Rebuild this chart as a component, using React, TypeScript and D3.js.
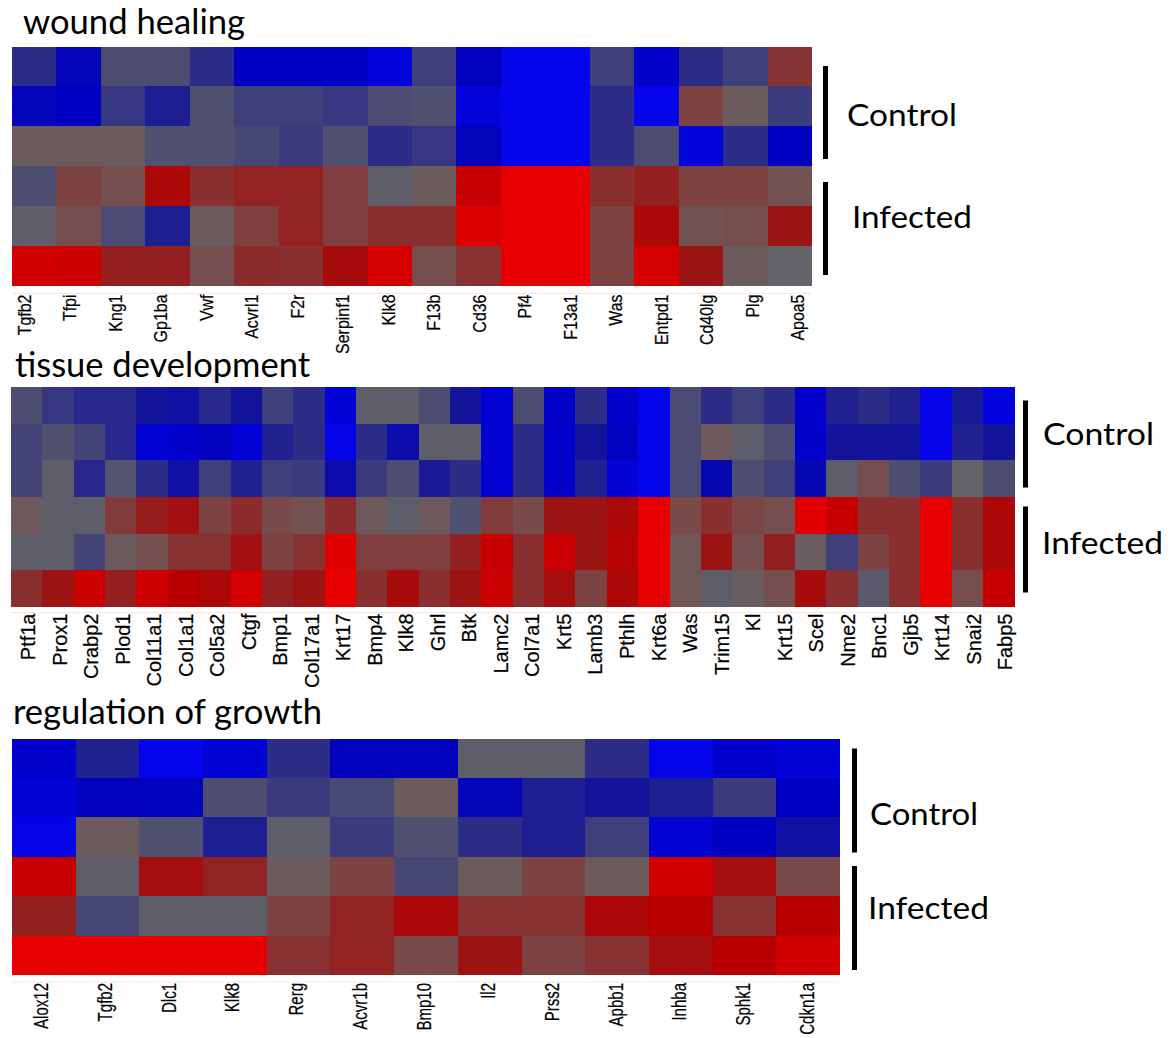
import React from 'react';
import * as d3 from 'd3';

// ---------- data ----------
const rowGroups = ['Control', 'Control', 'Control', 'Infected', 'Infected', 'Infected'];

const woundGenes = ['Tgfb2', 'Tfpi', 'Kng1', 'Gp1ba', 'Vwf', 'Acvrl1', 'F2r', 'Serpinf1', 'Klk8', 'F13b', 'Cd36', 'Pf4', 'F13a1', 'Was', 'Entpd1', 'Cd40lg', 'Plg', 'Apoa5'];
const woundValues = [
  [-0.3, -0.7, 0.05, -0.12, -0.03, 0.88],
  [-0.7, -0.75, 0.05, 0.2, 0.12, 0.85],
  [-0.12, -0.25, 0.05, 0.12, -0.13, 0.43],
  [-0.12, -0.42, -0.1, 0.65, -0.42, 0.43],
  [-0.3, -0.1, -0.1, 0.32, 0.05, 0.12],
  [-0.75, -0.2, -0.15, 0.4, 0.22, 0.35],
  [-0.75, -0.2, -0.22, 0.4, 0.4, 0.32],
  [-0.75, -0.25, -0.1, 0.22, 0.22, 0.6],
  [-0.9, -0.13, -0.3, -0.03, 0.32, 0.9],
  [-0.2, -0.1, -0.25, 0.05, 0.33, 0.13],
  [-0.72, -0.9, -0.7, 0.82, 0.95, 0.3],
  [-1, -1, -1, 1, 1, 1],
  [-1, -1, -1, 1, 1, 1],
  [-0.2, -0.3, -0.3, 0.32, 0.2, 0.2],
  [-0.78, -1, -0.12, 0.42, 0.65, 0.9],
  [-0.3, 0.2, -0.9, 0.2, 0.1, 0.5],
  [-0.2, 0.05, -0.3, 0.2, 0.14, 0.05],
  [0.28, -0.22, -0.75, 0.1, 0.5, 0],
];

const tissueGenes = ['Ptf1a', 'Prox1', 'Crabp2', 'Plod1', 'Col11a1', 'Col1a1', 'Col5a2', 'Ctgf', 'Bmp1', 'Col17a1', 'Krt17', 'Bmp4', 'Klk8', 'Ghrl', 'Btk', 'Lamc2', 'Col7a1', 'Krt5', 'Lamb3', 'Pthlh', 'Krt6a', 'Was', 'Trim15', 'Kl', 'Krt15', 'Scel', 'Nme2', 'Bnc1', 'Gjb5', 'Krt14', 'Snai2', 'Fabp5'];
const tissueValues = [
  [-0.12, -0.17, -0.17, 0.06, -0.03, 0.32],
  [-0.25, -0.1, -0.03, -0.03, -0.03, 0.5],
  [-0.35, -0.17, -0.35, -0.03, -0.17, 0.85],
  [-0.35, -0.35, -0.08, 0.25, 0.05, 0.42],
  [-0.5, -0.85, -0.3, 0.45, 0.12, 0.85],
  [-0.55, -0.8, -0.55, 0.55, 0.3, 0.75],
  [-0.35, -0.72, -0.2, 0.2, 0.3, 0.65],
  [-0.5, -0.88, -0.4, 0.35, 0.55, 0.9],
  [-0.2, -0.4, -0.2, 0.15, 0.2, 0.42],
  [-0.3, -0.3, -0.22, 0.1, 0.3, 0.5],
  [-0.88, -0.98, -0.6, 0.35, 0.97, 1],
  [-0.03, -0.3, -0.22, 0.06, 0.22, 0.32],
  [-0.03, -0.6, -0.12, -0.03, 0.22, 0.6],
  [-0.12, -0.03, -0.45, 0.06, 0.22, 0.32],
  [-0.5, -0.03, -0.3, -0.1, 0.42, 0.5],
  [-0.85, -0.85, -0.85, 0.25, 0.82, 0.85],
  [-0.12, -0.3, -0.3, 0.15, 0.32, 0.32],
  [-0.78, -0.8, -0.78, 0.5, 0.85, 0.58],
  [-0.3, -0.5, -0.4, 0.5, 0.5, 0.2],
  [-0.8, -0.72, -0.88, 0.65, 0.72, 0.65],
  [-1, -1, -1, 1, 1, 1],
  [-0.13, -0.13, -0.13, 0.15, 0.08, 0.08],
  [-0.3, 0.06, -0.65, 0.32, 0.5, -0.03],
  [-0.2, -0.03, -0.12, 0.18, 0.12, 0.04],
  [-0.3, -0.12, -0.2, 0.12, 0.42, 0.12],
  [-0.8, -0.8, -0.65, 0.97, 0.04, 0.6],
  [-0.4, -0.5, -0.03, 0.82, -0.2, 0.32],
  [-0.3, -0.5, 0.12, 0.32, 0.2, -0.05],
  [-0.4, -0.5, -0.12, 0.32, 0.32, 0.32],
  [-0.98, -0.98, -0.22, 1, 1, 1],
  [-0.45, -0.4, 0, 0.32, 0.32, 0.14],
  [-0.95, -0.5, -0.12, 0.65, 0.65, 0.82],
];

const growthGenes = ['Alox12', 'Tgfb2', 'Dlc1', 'Klk8', 'Rerg', 'Acvr1b', 'Bmp10', 'Il2', 'Prss2', 'Apbb1', 'Inhba', 'Sphk1', 'Cdkn1a'];
const growthValues = [
  [-0.8, -0.88, -0.97, 0.82, 0.42, 1],
  [-0.4, -0.72, 0.05, -0.03, -0.15, 1],
  [-1, -0.72, -0.1, 0.58, -0.03, 1],
  [-0.85, -0.12, -0.42, 0.4, -0.03, 1],
  [-0.3, -0.22, -0.03, 0.05, 0.2, 0.3],
  [-0.72, -0.14, -0.22, 0.2, 0.4, 0.4],
  [-0.72, 0.05, -0.1, -0.15, 0.65, 0.15],
  [-0.03, -0.7, -0.3, 0.05, 0.3, 0.5],
  [-0.03, -0.42, -0.42, 0.2, 0.3, 0.2],
  [-0.3, -0.5, -0.2, 0.05, 0.65, 0.3],
  [-1, -0.42, -0.85, 0.88, 0.75, 0.58],
  [-0.8, -0.22, -0.75, 0.58, 0.3, 0.75],
  [-0.88, -0.75, -0.55, 0.15, 0.75, 0.88],
];

const colorStops = [-1, -0.75, -0.5, -0.3, -0.1, 0, 0.1, 0.3, 0.5, 0.75, 1];
const colorRange = ['#0505eb', '#0000c3', '#14149b', '#2d2d87', '#505070', '#646468', '#735252', '#873232', '#9b1414', '#b90000', '#e60000'];

const color = d3
  .scaleLinear<string>()
  .domain(colorStops)
  .range(colorRange)
  .interpolate(d3.interpolateRgb)
  .clamp(true);

const TITLE_FONT = 'Lato, "Open Sans", sans-serif';
const LABEL_FONT = '"Liberation Sans", Arial, sans-serif';

type Panel = {
  title: string;
  genes: string[];
  values: number[][];
  box: [number, number, number, number];
  labelRange: [number, number];
  labelTop: number;
  labelSize: number;
  labelSquash: number;
  titlePos: [number, number, number];
  barX: number;
  bars: [number, number][];
  groupText: [number, number, number][];
};

const panels: Panel[] = [
  {
    title: 'wound healing',
    genes: woundGenes,
    values: woundValues,
    box: [12, 812, 46.5, 286],
    labelRange: [1, 820],
    labelTop: 294.5,
    labelSize: 19,
    labelSquash: 0.84,
    titlePos: [23, 34, 222],
    barX: 823,
    bars: [[66, 159], [182, 275]],
    groupText: [[847, 126, 110], [852, 228, 120]],
  },
  {
    title: 'tissue development',
    genes: tissueGenes,
    values: tissueValues,
    box: [11, 1014.5, 387, 607],
    labelRange: [12.25, 1020.75],
    labelTop: 613.5,
    labelSize: 20,
    labelSquash: 1,
    titlePos: [15, 377, 295],
    barX: 1023,
    bars: [[400.5, 487.5], [506.5, 592.5]],
    groupText: [[1043, 445, 111], [1042, 554, 121]],
  },
  {
    title: 'regulation of growth',
    genes: growthGenes,
    values: growthValues,
    box: [12, 840, 738.5, 975],
    labelRange: [9, 839],
    labelTop: 983,
    labelSize: 19.5,
    labelSquash: 0.77,
    titlePos: [13, 723.5, 309],
    barX: 852,
    bars: [[748.5, 852.5], [866, 970]],
    groupText: [[870, 825, 108], [868, 919, 121]],
  },
];

function HeatPanel({ p }: { p: Panel }) {
  const [x0, x1, y0, y1] = p.box;
  const x = d3.scaleBand<string>().domain(p.genes.map((g, i) => `${i}`)).range([x0, x1]).padding(0);
  const y = d3.scaleBand<string>().domain(rowGroups.map((g, i) => `${i}`)).range([y0, y1]).padding(0);
  const lx = d3.scaleBand<string>().domain(p.genes.map((g, i) => `${i}`)).range(p.labelRange).padding(0);
  const groups = ['Control', 'Infected'];
  return (
    <g>
      <text
        x={p.titlePos[0]}
        y={p.titlePos[1]}
        textLength={p.titlePos[2]}
        lengthAdjust="spacingAndGlyphs"
        fontFamily={TITLE_FONT}
        fontSize={34}
        fill="#000"
      >
        {p.title}
      </text>
      <g shapeRendering="crispEdges">
        {p.values.map((col, i) =>
          col.map((v, j) => (
            <rect
              key={`${i}-${j}`}
              x={x(`${i}`)}
              y={y(`${j}`)}
              width={x.bandwidth() + 0.4}
              height={y.bandwidth() + 0.4}
              fill={color(v)}
            />
          ))
        )}
      </g>
      <line x1={x0} x2={x1} y1={p.labelTop - 1} y2={p.labelTop - 1} stroke="#fbe4e4" strokeWidth={1} />
      {p.genes.map((g, i) => {
        const cx = (lx(`${i}`) as number) + lx.bandwidth() / 2;
        return (
          <text
            key={g + i}
            transform={`translate(${cx},${p.labelTop}) rotate(-90) scale(${p.labelSquash},1)`}
            textAnchor="end"
            dy="0.36em"
            fontFamily={LABEL_FONT}
            fontSize={p.labelSize}
            fill="#000"
            stroke="#000"
            strokeWidth={0.2}
          >
            {g}
          </text>
        );
      })}
      {p.bars.map((b, k) => (
        <rect key={`bar${k}`} x={p.barX} y={b[0]} width={5} height={b[1] - b[0]} fill="#000" />
      ))}
      {p.groupText.map((t, k) => (
        <text
          key={`gt${k}`}
          x={t[0]}
          y={t[1]}
          textLength={t[2]}
          lengthAdjust="spacingAndGlyphs"
          fontFamily={TITLE_FONT}
          fontSize={31}
          fill="#000"
        >
          {groups[k]}
        </text>
      ))}
    </g>
  );
}

export default function App() {
  return (
    <svg
      width={1171}
      height={1038}
      viewBox="0 0 1171 1038"
      style={{ position: 'absolute', left: 0, top: 0, display: 'block', background: '#fff' }}
    >
      <rect x={0} y={0} width={1171} height={1038} fill="#fff" />
      {panels.map((p) => (
        <HeatPanel key={p.title} p={p} />
      ))}
    </svg>
  );
}
